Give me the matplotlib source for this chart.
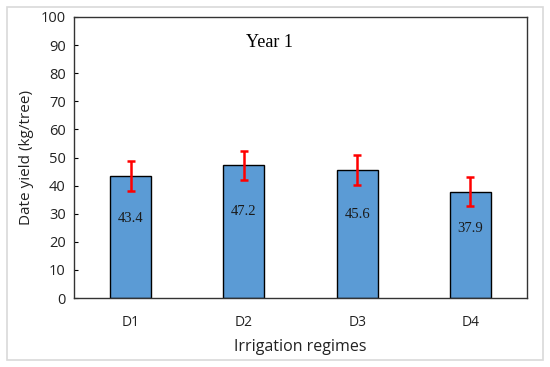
import matplotlib
matplotlib.use("Agg")
import matplotlib.pyplot as plt
from matplotlib.patches import Rectangle

categories = ["D1", "D2", "D3", "D4"]
values = [43.4, 47.2, 45.6, 37.9]
errors = [5.3, 5.2, 5.3, 5.1]
value_labels = ["43.4", "47.2", "45.6", "37.9"]
yticks = [0, 10, 20, 30, 40, 50, 60, 70, 80, 90, 100]

fig = plt.figure(figsize=(5.5, 3.67), dpi=100)
fig.patches.append(Rectangle((7/550, 1-360/367), (543-7)/550, (360-7)/367,
                             transform=fig.transFigure, fill=False,
                             edgecolor="#d9d9d9", linewidth=1.2, zorder=0))
ax = fig.add_axes([74/550, 1-298/367, (527-74)/550, (298-17)/367])

x = [i + 0.5 for i in range(len(categories))]
ax.bar(x, values, width=0.36, color="#5B9BD5", edgecolor="black", linewidth=1.0, zorder=2)
ax.errorbar(x, values, yerr=errors, fmt="none", ecolor="red", elinewidth=1.8,
            capsize=2.6, capthick=1.8, zorder=3)

for xi, v, lab in zip(x, values, value_labels):
    ax.text(xi, v * 0.65, lab, ha="center", va="center", fontsize=10.5,
            family="Liberation Serif", color="#1a1a1a", zorder=4)

ax.text(1.73, 91, "Year 1", ha="center", va="center", fontsize=13,
        family="Liberation Serif", color="black")

ax.set_xlim(0, 4)
ax.set_ylim(0, 100)
ax.set_yticks(yticks)
ax.set_xticks(x)
ax.set_xticklabels(categories)
ax.tick_params(axis="y", direction="in", length=3, width=0.8, labelsize=10.5, pad=6)
ax.tick_params(axis="x", length=0, labelsize=10, pad=12)
for lab in ax.get_xticklabels() + ax.get_yticklabels():
    lab.set_family("Open Sans")
    lab.set_color("#222222")
for s in ax.spines.values():
    s.set_color("#333333")
    s.set_linewidth(1.0)

ax.set_xlabel("Irrigation regimes", fontsize=11.5, family="Open Sans", color="#222222", labelpad=7)
ax.set_ylabel("Date yield (kg/tree)", fontsize=11, family="Open Sans", color="#222222", labelpad=5)

fig.savefig("out.png", dpi=100)
